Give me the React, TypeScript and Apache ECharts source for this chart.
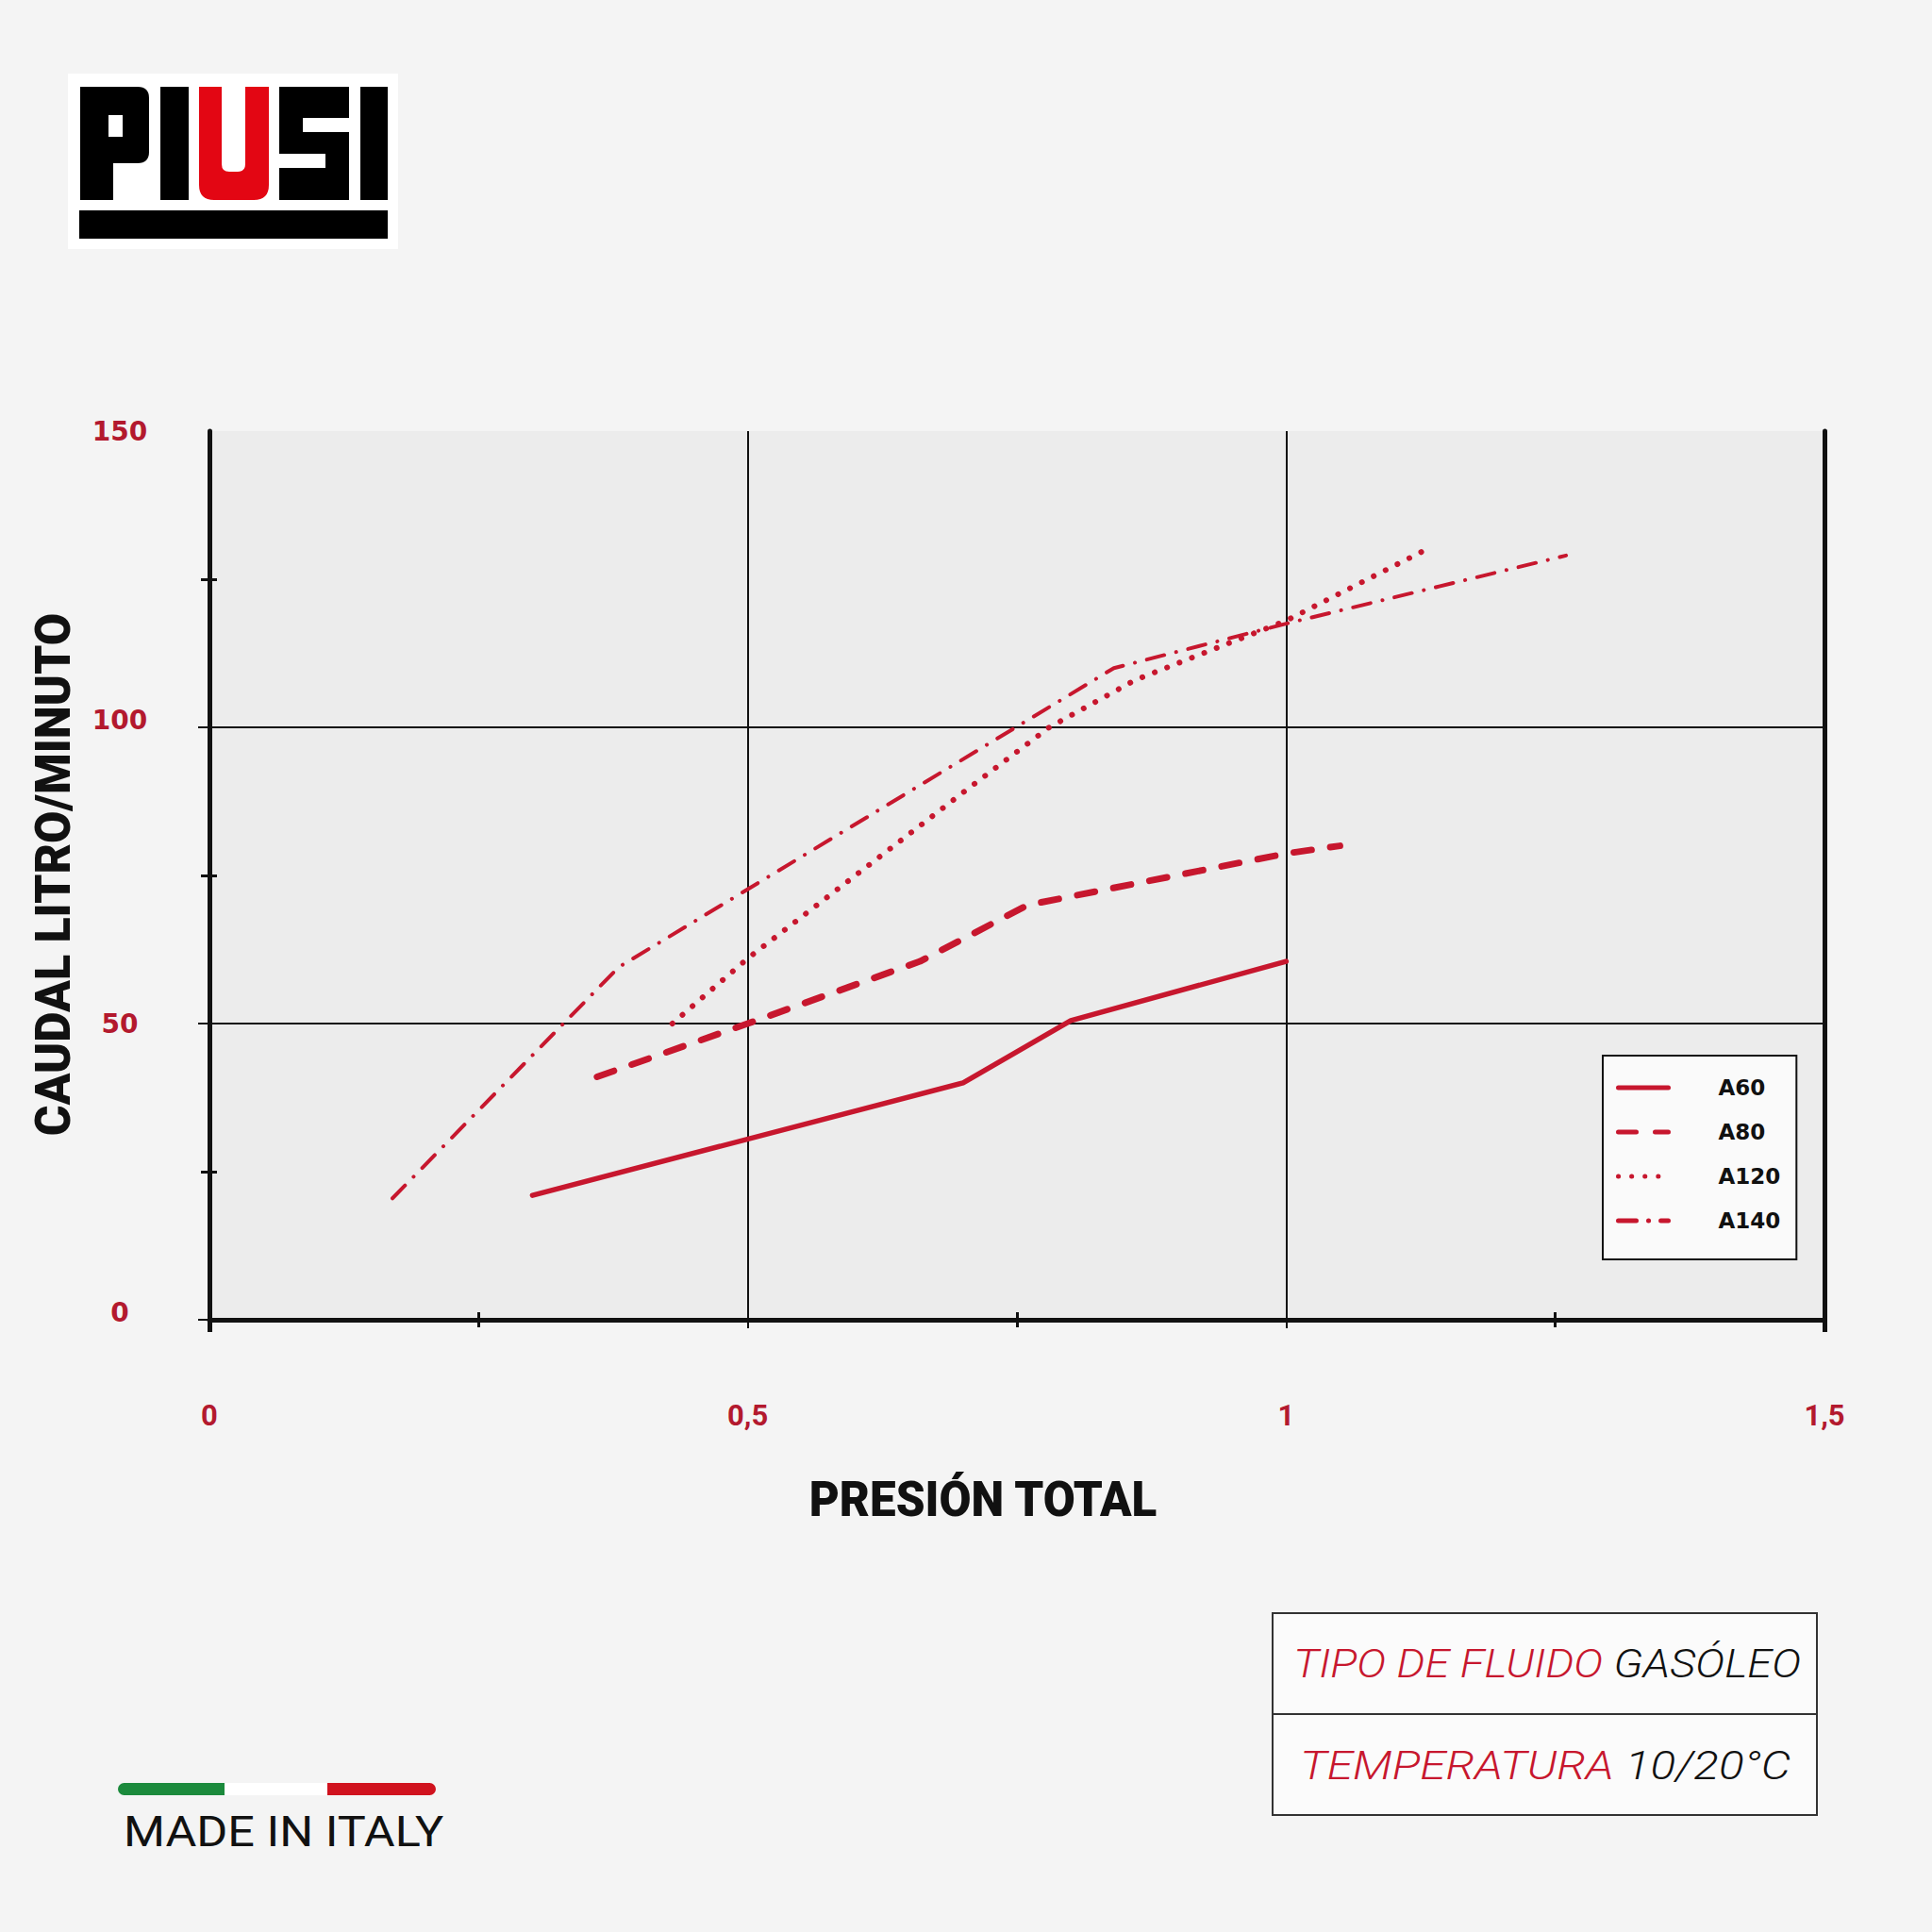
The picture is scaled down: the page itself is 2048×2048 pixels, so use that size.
import React, { useEffect, useRef } from 'react';
import * as echarts from 'echarts';

// ---------- data ----------
const seriesNames = ['A60', 'A80', 'A120', 'A140'];
const a60X = [0.3, 0.7, 0.8, 1.0];
const a60Y = [21, 40, 50.5, 60.5];
const a80X = [0.36, 0.5, 0.66, 0.76, 1.0, 1.05];
const a80Y = [41, 50, 60.5, 70, 78.7, 80];
const a120X = [0.43, 0.5, 0.6, 0.7, 0.78, 0.86, 1.0, 1.13];
const a120Y = [50, 61, 75, 89, 100, 108, 118, 130];
const a140X = [0.17, 0.38, 0.84, 1.0, 1.26];
const a140Y = [20.5, 59.5, 110, 117.5, 129];
const xTickValues = [0, 0.5, 1, 1.5];
const xTickLabels = ['0', '0,5', '1', '1,5'];
const yTickValues = [0, 50, 100, 150];
const yTickLabels = ['0', '50', '100', '150'];

const RED = '#c7172e';
const LABEL_RED = '#b3192e';
const INK = '#111111';

const pairs = (xs: number[], ys: number[]) => xs.map((x, i) => [x, ys[i]]);

const P_PATH =
  'M85 92 H146 Q158 92 158 104 V161 Q158 173 146 173 H120 V212 H85 Z M115 122 V145 H130 V122 Z';
const U_PATH =
  'M211 92 H235 V174 Q235 182 243 182 H252 Q260 182 260 174 V92 H285 V196 Q285 212 269 212 H227 Q211 212 211 196 Z';

export default function App() {
  const ref = useRef<HTMLDivElement>(null);

  useEffect(() => {
    if (!ref.current) return;
    echarts.graphic.registerShape('logoP', echarts.graphic.extendPath(P_PATH, {}));
    echarts.graphic.registerShape('logoU', echarts.graphic.extendPath(U_PATH, {}));
    const chart = echarts.init(ref.current, null, { renderer: 'svg', width: 2048, height: 2048 });

    const xLabel = (v: number) => {
      const i = xTickValues.findIndex((t) => Math.abs(t - v) < 1e-9);
      return i >= 0 ? xTickLabels[i] : '';
    };
    const yLabel = (v: number) => {
      const i = yTickValues.findIndex((t) => Math.abs(t - v) < 1e-9);
      if (i < 0) return '';
      const style = v === 0 || v === 100 ? 'u' : 'n';
      return `{${style}|${yTickLabels[i]}}`;
    };

    const hiddenAxisBase = {
      type: 'value',
      axisLine: { show: false },
      axisLabel: { show: false },
      splitLine: { show: false },
    };

    const infoRich = (weight: number) => ({
      r: { fill: RED, fontFamily: 'Roboto', fontStyle: 'italic', fontWeight: weight, fontSize: 42 },
      k: { fill: INK, fontFamily: 'Roboto', fontStyle: 'italic', fontWeight: weight, fontSize: 42 },
    });

    const yLabelFont = {
      color: LABEL_RED,
      fontFamily: 'DejaVu Sans',
      fontWeight: 'bold',
      fontSize: 28,
    };

    const option: any = {
      animation: false,
      backgroundColor: '#f4f4f4',
      grid: {
        left: 222,
        right: 114,
        top: 457,
        bottom: 649,
        show: true,
        backgroundColor: '#ececec',
        borderWidth: 0,
      },
      xAxis: [
        {
          type: 'value',
          min: 0,
          max: 1.5,
          interval: 0.5,
          position: 'bottom',
          axisLine: { show: true, onZero: false, lineStyle: { color: INK, width: 5 } },
          axisTick: { show: true, length: 9, lineStyle: { color: INK, width: 2 } },
          minorTick: { show: true, splitNumber: 2, length: 8, lineStyle: { color: INK, width: 3 } },
          splitLine: { show: true, lineStyle: { color: INK, width: 2 } },
          axisLabel: {
            margin: 101,
            verticalAlign: 'middle',
            color: LABEL_RED,
            fontFamily: 'Roboto',
            fontWeight: 'bold',
            fontSize: 31,
            formatter: xLabel,
          },
        },
        {
          ...hiddenAxisBase,
          min: 0,
          max: 1.5,
          interval: 0.5,
          position: 'bottom',
          axisTick: { show: false, inside: true },
          minorTick: { show: true, splitNumber: 2, length: 8, lineStyle: { color: INK, width: 3 } },
        },
        {
          ...hiddenAxisBase,
          min: 0,
          max: 1.5,
          interval: 0.5,
          position: 'bottom',
          axisTick: { show: true, length: 13, customValues: [0, 1.5], lineStyle: { color: INK, width: 5 } },
        },
      ],
      yAxis: [
        {
          type: 'value',
          min: 0,
          max: 150,
          interval: 50,
          position: 'left',
          axisLine: { show: true, onZero: false, lineStyle: { color: INK, width: 5 } },
          axisTick: { show: false },
          minorTick: { show: true, splitNumber: 2, length: 9, lineStyle: { color: INK, width: 3 } },
          splitLine: { show: true, showMaxLine: false, lineStyle: { color: INK, width: 2 } },
          axisLabel: {
            margin: 95,
            align: 'center',
            ...yLabelFont,
            formatter: yLabel,
            rich: {
              n: { ...yLabelFont },
              u: { ...yLabelFont, padding: [0, 0, 16, 0] },
            },
          },
        },
        {
          ...hiddenAxisBase,
          min: 0,
          max: 150,
          interval: 50,
          position: 'left',
          axisTick: { show: false, inside: true },
          minorTick: { show: true, splitNumber: 2, length: 8, lineStyle: { color: INK, width: 3 } },
        },
        {
          type: 'value',
          min: 0,
          max: 150,
          interval: 50,
          position: 'right',
          axisLine: { show: true, onZero: false, lineStyle: { color: INK, width: 5 } },
          axisTick: { show: false },
          axisLabel: { show: false },
          splitLine: { show: false },
        },
        {
          ...hiddenAxisBase,
          min: 0,
          max: 150,
          interval: 50,
          position: 'left',
          axisTick: { show: true, length: 12, customValues: [0, 50, 100], lineStyle: { color: INK, width: 2 } },
        },
      ],
      legend: {
        orient: 'vertical',
        left: 1699,
        top: 1119,
        padding: [21, 17, 28, 14],
        itemWidth: 53,
        itemHeight: 26,
        itemGap: 21,
        backgroundColor: '#fafafa',
        borderColor: INK,
        borderWidth: 2,
        selectedMode: false,
        data: seriesNames,
        itemStyle: { opacity: 0 },
        lineStyle: { width: 5 },
        textStyle: {
          fontFamily: 'DejaVu Sans',
          fontWeight: 'bold',
          fontSize: 23,
          color: INK,
          lineHeight: 26,
          padding: [0, 0, 0, 48],
        },
      },
      series: [
        {
          name: 'A60',
          type: 'line',
          data: pairs(a60X, a60Y),
          showSymbol: false,
          symbol: 'none',
          lineStyle: { color: RED, width: 5.5, cap: 'round', join: 'round' },
          itemStyle: { color: RED },
        },
        {
          name: 'A80',
          type: 'line',
          data: pairs(a80X, a80Y),
          showSymbol: false,
          symbol: 'none',
          lineStyle: { color: RED, width: 7, type: [19, 20], cap: 'round', join: 'round' },
          itemStyle: { color: RED },
        },
        {
          name: 'A120',
          type: 'line',
          data: pairs(a120X, a120Y),
          showSymbol: false,
          symbol: 'none',
          lineStyle: { color: RED, width: 6, type: [0.1, 14], cap: 'round', join: 'round' },
          itemStyle: { color: RED },
        },
        {
          name: 'A140',
          type: 'line',
          data: pairs(a140X, a140Y),
          showSymbol: false,
          symbol: 'none',
          lineStyle: { color: RED, width: 4, type: [19, 13, 0.1, 13], cap: 'round', join: 'round' },
          itemStyle: { color: RED },
        },
      ],
      graphic: [
        // logo
        { type: 'rect', shape: { x: 72, y: 78, width: 350, height: 186 }, style: { fill: '#ffffff' } },
        { type: 'logoP', x: 0, y: 0, style: { fill: '#000000' } },
        { type: 'rect', shape: { x: 170, y: 92, width: 30, height: 120 }, style: { fill: '#000000' } },
        { type: 'logoU', x: 0, y: 0, style: { fill: '#e30613' } },
        {
          type: 'polygon',
          shape: {
            points: [
              [296, 92], [370, 92], [370, 125], [321, 125], [321, 140], [370, 140],
              [370, 212], [296, 212], [296, 178], [345, 178], [345, 163], [296, 163],
            ],
          },
          style: { fill: '#000000' },
        },
        { type: 'rect', shape: { x: 382, y: 92, width: 29, height: 120 }, style: { fill: '#000000' } },
        { type: 'rect', shape: { x: 84, y: 223, width: 327, height: 30 }, style: { fill: '#000000' } },
        // axis titles
        {
          type: 'text',
          x: 56,
          y: 927,
          rotation: Math.PI / 2,
          scaleX: 0.96,
          style: {
            text: 'CAUDAL LITRO/MINUTO',
            fontFamily: 'Roboto',
            fontWeight: 900,
            fontSize: 52,
            fill: INK,
            align: 'center',
            verticalAlign: 'middle',
          },
        },
        {
          type: 'text',
          x: 1042,
          y: 1589,
          scaleX: 0.95,
          style: {
            text: 'PRESIÓN TOTAL',
            fontFamily: 'Roboto',
            fontWeight: 900,
            fontSize: 52,
            fill: INK,
            align: 'center',
            verticalAlign: 'middle',
          },
        },
        // info box
        {
          type: 'rect',
          shape: { x: 1349, y: 1710, width: 577, height: 214 },
          style: { fill: '#fbfbfb', stroke: '#333333', lineWidth: 2 },
        },
        {
          type: 'line',
          shape: { x1: 1349, y1: 1817, x2: 1926, y2: 1817 },
          style: { stroke: '#333333', lineWidth: 2 },
        },
        {
          type: 'text',
          x: 1640,
          y: 1764,
          scaleX: 1.12,
          style: {
            text: '{r|TIPO DE FLUIDO} {k|GASÓLEO}',
            align: 'center',
            verticalAlign: 'middle',
            fontFamily: 'Roboto',
            fontStyle: 'italic',
            fontWeight: 300,
            fontSize: 42,
            rich: infoRich(300),
          },
        },
        {
          type: 'text',
          x: 1638,
          y: 1871,
          scaleX: 1.18,
          style: {
            text: '{r|TEMPERATURA} {k|10/20°C}',
            align: 'center',
            verticalAlign: 'middle',
            fontFamily: 'Roboto',
            fontStyle: 'italic',
            fontWeight: 300,
            fontSize: 42,
            rich: infoRich(300),
          },
        },
        // made in italy
        { type: 'rect', shape: { x: 125, y: 1890, width: 114, height: 13, r: [6.5, 0, 0, 6.5] }, style: { fill: '#1b8a3c' } },
        { type: 'rect', shape: { x: 238, y: 1890, width: 110, height: 13 }, style: { fill: '#ffffff' } },
        { type: 'rect', shape: { x: 347, y: 1890, width: 115, height: 13, r: [0, 6.5, 6.5, 0] }, style: { fill: '#d0121e' } },
        {
          type: 'text',
          x: 131,
          y: 1942,
          scaleX: 1.12,
          style: {
            text: 'MADE IN ITALY',
            fontFamily: 'Roboto',
            fontSize: 45,
            fill: INK,
            align: 'left',
            verticalAlign: 'middle',
          },
        },
      ],
    };

    chart.setOption(option);
    return () => chart.dispose();
  }, []);

  return (
    <div
      ref={ref}
      style={{ position: 'fixed', left: 0, top: 0, width: 2048, height: 2048 }}
    />
  );
}
